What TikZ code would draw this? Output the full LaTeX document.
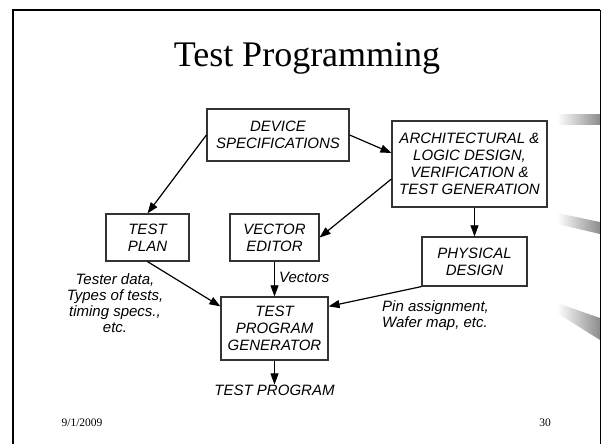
\documentclass[tikz,border=0pt]{standalone}
\usepackage{fontspec}
\setmainfont{Liberation Serif}
\setsansfont{Liberation Sans}
\usetikzlibrary{arrows.meta}

\begin{document}
\begin{tikzpicture}[x=1pt, y=1pt,
  box/.style={draw=black!80, line width=1.2pt, align=center, inner sep=0pt,
              font=\sffamily\itshape\fontsize{15}{17}\selectfont},
  note/.style={align=center, inner sep=0pt,
               font=\sffamily\itshape\fontsize{15}{16}\selectfont},
  arr/.style={-{Triangle[length=11pt, width=8pt]}, line width=1.2pt, black},
  thin arr/.style={arr, line width=0.7pt},
  bar/.style={left color=white, right color=black!45}]
  \useasboundingbox (0,0) rectangle (602,444);
  \fill[white] (0,0) rectangle (602,444);
  % slide frame and side decoration
  \shade[bar] (557,319) rectangle (600,329);
  \shade[bar] (557,231) -- (600,222) -- (600,210) -- (557,220) -- cycle;
  \shade[bar] (557,141) -- (600,126) -- (600,104) -- (557,131) -- cycle;
  \draw[line width=2pt] (13,0) -- (13,433.5) -- (600,433.5);
  \draw[line width=1pt] (600,433.5) -- (600,0);
  % title and footer
  \node[font=\fontsize{36}{40}\selectfont] (title) at (307,386) {Test Programming};
  \node[font=\fontsize{11.5}{13}\selectfont] (date) at (82,21) {9/1/2009};
  \node[font=\fontsize{11.5}{13}\selectfont] (page) at (545,21) {30};
  % blocks
  \node[box, minimum width=142pt, minimum height=52pt] (dev) at (278,309)
    {DEVICE\\ SPECIFICATIONS};
  \node[box, minimum width=155pt, minimum height=86pt] (arch) at (469.5,280)
    {ARCHITECTURAL \&\\ LOGIC DESIGN,\\ VERIFICATION \&\\ TEST GENERATION};
  \node[box, minimum width=83pt, minimum height=47pt] (plan) at (147.5,206.5)
    {TEST\\ PLAN};
  \node[box, minimum width=89pt, minimum height=47pt] (vec) at (274.5,206.5)
    {VECTOR\\ EDITOR};
  \node[box, minimum width=105pt, minimum height=49pt] (phys) at (474.5,182.5)
    {PHYSICAL\\ DESIGN};
  \node[box, minimum width=107pt, minimum height=63pt] (tpg) at (274.5,115.5)
    {TEST\\ PROGRAM\\ GENERATOR};
  \node[note] (prog) at (274.5,54) {TEST PROGRAM};
  % labels
  \node[note] (tester) at (115,141)
    {Tester data,\\ Types of tests,\\ timing specs.,\\ etc.};
  \node[note, anchor=west] (vlab) at (279,167) {Vectors};
  \node[note, align=left, anchor=north west] (pin) at (382,144)
    {Pin assignment,\\ Wafer map, etc.};
  % connectors
  \draw[arr] (dev.west) -- (plan.north);
  \draw[arr] (dev.east) -- ([yshift=11pt]arch.west);
  \draw[arr] ([yshift=-15pt]arch.west) -- (vec.east);
  \draw[thin arr] (phys.north |- arch.south) -- (phys.north);
  \draw[arr] (plan.south) -- ([yshift=-10pt]tpg.north west);
  \draw[thin arr] (vec.south) -- (tpg.north);
  \draw[arr] (phys.south west) -- ([yshift=-10pt]tpg.north east);
  \draw[thin arr] (tpg.south) -- (prog.north);
\end{tikzpicture}
\end{document}
